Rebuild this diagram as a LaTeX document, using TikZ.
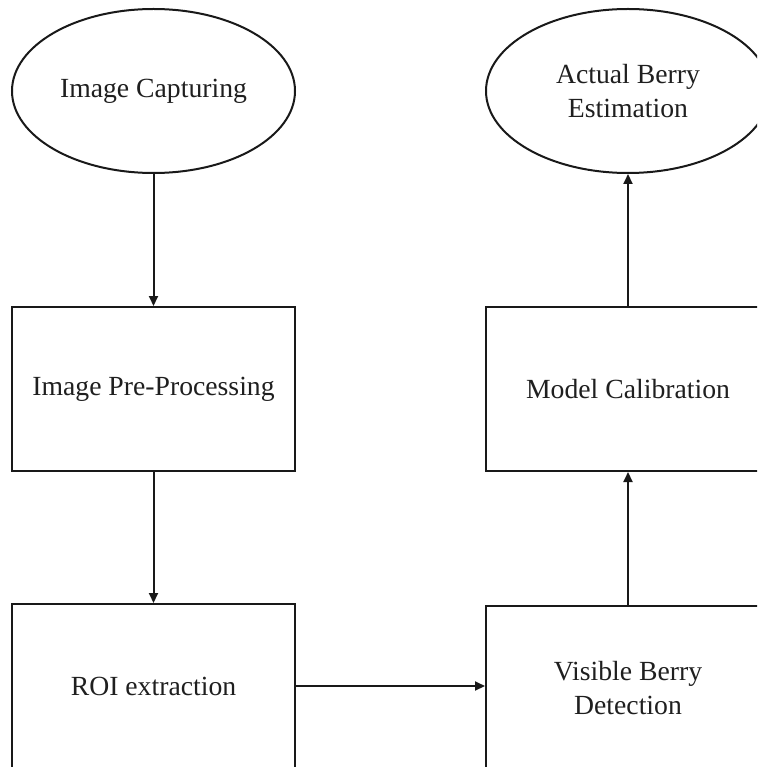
\documentclass[tikz,border=0pt]{standalone}
\usepackage{fontspec}
\setmainfont{Liberation Serif}
\usetikzlibrary{shapes.geometric,arrows.meta}
\tikzset{
  x=1pt, y=1pt,
  base/.style={draw=black!90, line width=2pt, inner sep=0pt, align=center,
    text=black!88, font=\fontsize{27.7}{33.5}\selectfont},
  oval/.style={base, ellipse, minimum width=283pt, minimum height=164pt},
  stepbox/.style={base, rectangle, minimum width=283pt, minimum height=164pt},
  conn/.style={draw=black!90, line width=2pt, -{Triangle[length=10pt,width=9pt]}}
}
\begin{document}
\begin{tikzpicture}
\useasboundingbox (0,0) rectangle (757,-767);
\clip (0,0) rectangle (757,-767);
\node[oval] (cap) at (153.5,-91) {Image Capturing};
\node[oval, minimum width=284pt] (est) at (628,-91) {Actual Berry\\Estimation};
\node[stepbox] (pre) at (153.5,-389) {Image Pre-Processing};
\node[stepbox, minimum width=284pt] (cal) at (628,-389) {Model Calibration};
\node[stepbox] (roi) at (153.5,-686) {ROI extraction};
\node[stepbox, minimum width=284pt] (vis) at (628,-688) {Visible Berry\\Detection};
\draw[conn] (cap.south) -- (pre.north);
\draw[conn] (pre.south) -- (roi.north);
\draw[conn] (roi.east) -- (roi.east -| vis.west);
\draw[conn] (vis.north) -- (cal.south);
\draw[conn] (cal.north) -- (est.south);
\end{tikzpicture}
\end{document}
